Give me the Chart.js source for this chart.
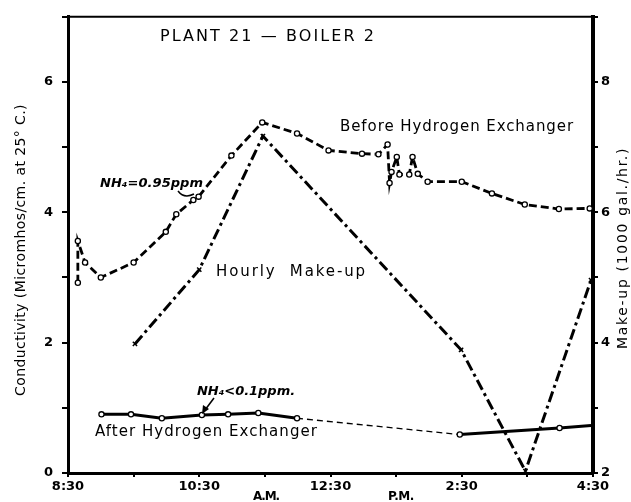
<!DOCTYPE html>
<html>
<head>
<meta charset="utf-8">
<script src="https://cdn.jsdelivr.net/npm/chart.js@4.4.1/dist/chart.umd.min.js"></script>
<style>
  html, body { margin: 0; padding: 0; background: #fff; }
  #wrap { width: 631px; height: 502px; position: relative; }
</style>
</head>
<body>
<div id="wrap"><canvas id="c" width="631" height="502"></canvas></div>
<script>
// ---- Data (time in hours of day, 8.5 = 8:30 A.M., 16.5 = 4:30 P.M.) ----
const xTickValues = [8.5, 10.5, 12.5, 14.5, 16.5];
const xTickLabels = ['8:30', '10:30', '12:30', '2:30', '4:30'];
const hourMarks = [8.5, 9.5, 10.5, 11.5, 12.5, 13.5, 14.5, 15.5, 16.5];

// Conductivity before hydrogen exchanger (left axis, micromhos/cm)
const beforeX = [8.65, 8.65, 8.76, 9.00, 9.50, 9.99, 10.15, 10.41, 10.49, 10.99, 11.46, 11.99, 12.47, 12.98, 13.23, 13.37, 13.40, 13.43, 13.51, 13.55, 13.70, 13.75, 13.83, 13.98, 14.50, 14.96, 15.46, 15.98, 16.45];
const beforeY = [2.92, 3.56, 3.23, 3.00, 3.23, 3.70, 3.97, 4.19, 4.24, 4.87, 5.38, 5.21, 4.95, 4.90, 4.89, 5.04, 4.45, 4.62, 4.85, 4.58, 4.58, 4.85, 4.59, 4.47, 4.47, 4.29, 4.12, 4.05, 4.06];

// Conductivity after hydrogen exchanger (left axis)
const afterX = [9.01, 9.46, 9.93, 10.54, 10.94, 11.40, 11.99, 14.47, 15.99, 16.47];
const afterY = [0.90, 0.90, 0.84, 0.89, 0.90, 0.92, 0.84, 0.59, 0.69, 0.73];

// Hourly make-up (right axis, 1000 gal./hr.)
const makeupX = [9.52, 10.50, 11.47, 14.49, 15.47, 16.47];
const makeupY = [3.98, 5.12, 7.17, 3.89, 2.03, 4.96];

const toPts = (xs, ys) => xs.map((x, i) => ({ x: x, y: ys[i] }));

// ---- text drawing helper: fit text between x0 and x1 ----
function fitText(ctx, text, x0, x1, y, font) {
  ctx.save();
  ctx.font = font;
  ctx.fillStyle = '#000';
  ctx.textBaseline = 'middle';
  ctx.textAlign = 'left';
  const w = ctx.measureText(text).width;
  const n = [...text].length;
  const sp = (x1 - x0 - w) / n;
  if ('letterSpacing' in ctx) {
    ctx.letterSpacing = sp.toFixed(2) + 'px';
    ctx.fillText(text, x0, y);
  } else {
    let x = x0;
    for (const ch of text) { ctx.fillText(ch, x, y); x += ctx.measureText(ch).width + sp; }
  }
  ctx.restore();
}

const annotations = {
  id: 'annotations',
  afterDraw(chart) {
    const ctx = chart.ctx;
    const a = chart.chartArea;
    // top border of frame
    ctx.save();
    ctx.strokeStyle = '#000';
    ctx.lineWidth = 2;
    ctx.beginPath(); ctx.moveTo(a.left, a.top); ctx.lineTo(a.right, a.top); ctx.stroke();
    ctx.restore();

    const F = '"DejaVu Sans", Verdana, sans-serif';
    fitText(ctx, 'PLANT 21 — BOILER 2', 160, 376, 37, '16px ' + F);
    fitText(ctx, 'Before Hydrogen Exchanger', 340, 574, 127, '15px ' + F);
    fitText(ctx, 'NH₄=0.95ppm', 100, 203, 184, 'italic bold 13px ' + F);
    fitText(ctx, 'Hourly  Make-up', 216, 367, 272, '15px ' + F);
    fitText(ctx, 'NH₄<0.1ppm.', 197, 295, 392, 'italic bold 13px ' + F);
    fitText(ctx, 'After Hydrogen Exchanger', 95, 318, 432, '15px ' + F);
    fitText(ctx, 'A.M.', 253, 279, 497, 'bold 12px ' + F);
    fitText(ctx, 'P.M.', 388, 414, 497, 'bold 12px ' + F);

    // rotated axis titles
    ctx.save();
    ctx.translate(21, 250);
    ctx.rotate(-Math.PI / 2);
    fitText(ctx, 'Conductivity (Micromhos/cm. at 25° C.)', -146, 146, 0, '14px ' + F);
    ctx.restore();
    ctx.save();
    ctx.translate(623, 248);
    ctx.rotate(-Math.PI / 2);
    fitText(ctx, 'Make-up (1000 gal./hr.)', -101, 101, 0, '14px ' + F);
    ctx.restore();

    // arrows
    ctx.save();
    ctx.strokeStyle = '#000';
    ctx.fillStyle = '#000';
    ctx.lineWidth = 1.5;
    // curly arrow for NH4=0.95ppm
    ctx.beginPath();
    ctx.moveTo(178, 191);
    ctx.quadraticCurveTo(184, 199, 194, 194);
    ctx.stroke();
    // straight arrow for NH4<0.1ppm
    ctx.beginPath();
    ctx.moveTo(214, 398);
    ctx.lineTo(205, 410);
    ctx.stroke();
    ctx.beginPath();
    ctx.moveTo(202, 414); ctx.lineTo(203, 405); ctx.lineTo(209, 409); ctx.closePath();
    ctx.fill();
    ctx.restore();
  }
};

const tickFont = { family: '"DejaVu Sans", Verdana, sans-serif', size: 13, weight: 'bold' };

new Chart(document.getElementById('c'), {
  type: 'line',
  data: {
    datasets: [
      {
        label: 'Before Hydrogen Exchanger',
        data: toPts(beforeX, beforeY),
        yAxisID: 'y',
        borderColor: '#000',
        borderWidth: 2.8,
        borderDash: [8, 4],
        pointStyle: 'circle',
        pointRadius: 2.6,
        pointBorderWidth: 1.3,
        pointBackgroundColor: '#fff',
        pointBorderColor: '#000',
        tension: 0
      },
      {
        label: 'Hourly Make-up',
        data: toPts(makeupX, makeupY),
        yAxisID: 'y2',
        borderColor: '#000',
        borderWidth: 3,
        borderDash: [11, 4, 3, 4],
        pointStyle: 'crossRot',
        pointRadius: 3,
        pointBorderWidth: 1.5,
        pointBorderColor: '#000',
        tension: 0
      },
      {
        label: 'After Hydrogen Exchanger',
        data: toPts(afterX, afterY),
        yAxisID: 'y',
        borderColor: '#000',
        borderWidth: 3,
        pointStyle: 'circle',
        pointRadius: afterX.map((v, i) => i === afterX.length - 1 ? 0 : 2.6),
        pointBorderWidth: 1.3,
        pointBackgroundColor: '#fff',
        pointBorderColor: '#000',
        tension: 0,
        segment: {
          borderDash: c => c.p0DataIndex === 6 ? [6, 4] : undefined,
          borderWidth: c => c.p0DataIndex === 6 ? 1.3 : undefined
        }
      }
    ]
  },
  options: {
    responsive: false,
    animation: false,
    layout: { padding: { top: 12, left: 0, right: 0, bottom: 0 } },
    plugins: { legend: { display: false }, tooltip: { enabled: false }, title: { display: false } },
    scales: {
      x: {
        type: 'linear',
        min: 8.5, max: 16.5,
        afterBuildTicks: s => { s.ticks = hourMarks.map(v => ({ value: v })); },
        afterFit: s => { s.height = 29; },
        ticks: {
          autoSkip: false, maxRotation: 0, minRotation: 0, padding: 2,
          color: '#000', font: tickFont,
          callback: v => { const i = xTickValues.indexOf(v); return i >= 0 ? xTickLabels[i] : ''; }
        },
        grid: { drawOnChartArea: false, drawTicks: true, tickLength: 4, color: '#000', lineWidth: 2 },
        border: { display: true, color: '#000', width: 3 }
      },
      y: {
        type: 'linear', position: 'left',
        min: 0, max: 7,
        afterFit: s => { s.width = 68; },
        ticks: {
          stepSize: 1, padding: 9, color: '#000', font: tickFont,
          callback: v => (v % 2 === 0 ? String(v) : '')
        },
        grid: { drawOnChartArea: false, drawTicks: true, tickLength: 6, color: '#000', lineWidth: 2 },
        border: { display: true, color: '#000', width: 3 }
      },
      y2: {
        type: 'linear', position: 'right',
        min: 2, max: 9,
        afterFit: s => { s.width = 38; },
        ticks: {
          stepSize: 1, padding: 3, color: '#000', font: tickFont,
          callback: v => (v % 2 === 0 ? String(v) : '')
        },
        grid: { drawOnChartArea: false, drawTicks: true, tickLength: 5, color: '#000', lineWidth: 2 },
        border: { display: true, color: '#000', width: 4 }
      }
    }
  },
  plugins: [annotations]
});
</script>
</body>
</html>
